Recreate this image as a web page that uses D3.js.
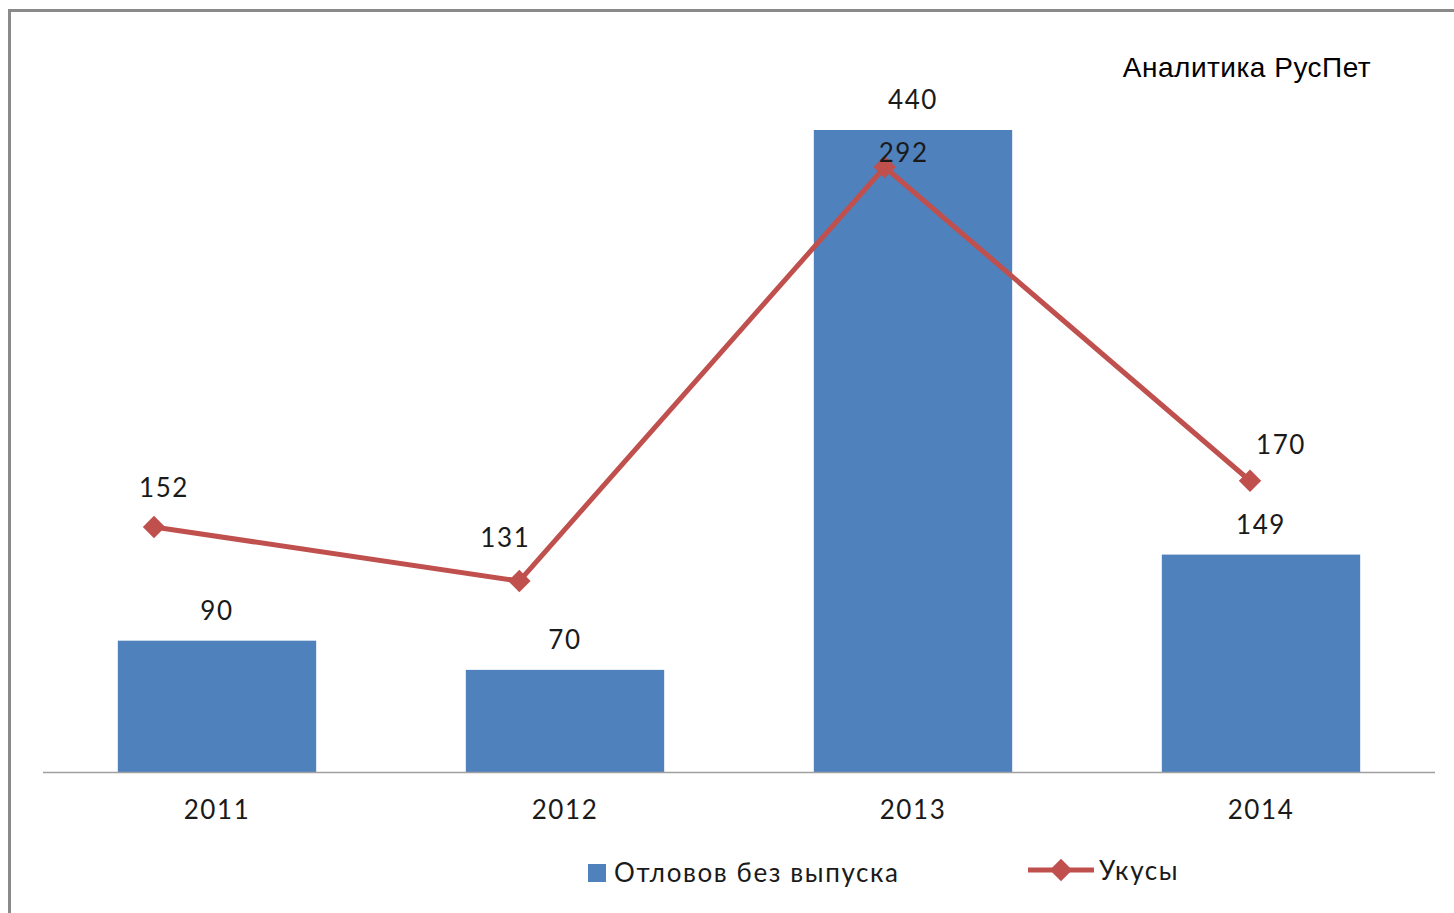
<!DOCTYPE html>
<html>
<head>
<meta charset="utf-8">
<script src="https://cdn.jsdelivr.net/npm/d3@7"></script>
<style>
  body { margin: 0; background: #fff; }
  svg { display: block; }
  .lbl { font-family: Lato, "Open Sans", sans-serif; font-size: 26px; letter-spacing: 1.6px; fill: #1a1a1a; }
</style>
</head>
<body>
<svg id="chart" width="1454" height="913"></svg>
<script>
// data
const years = ["2011", "2012", "2013", "2014"];
const catches = [90, 70, 440, 149];   // Отловов без выпуска
const bites = [152, 131, 292, 170];   // Укусы

// the line labels were dragged by hand in the original, nudge them the same way
const biteLabelNudge = [[10, -39], [-14, -43], [19, -14], [31, -36]];

const svg = d3.select("#chart");

// frame
svg.append("path")
    .attr("d", "M9.5,913 L9.5,10.5 L1454,10.5")
    .attr("fill", "none")
    .attr("stroke", "#8a8a8a")
    .attr("stroke-width", 3);

// bars use the primary axis, the line uses a hidden secondary one
let x = d3.scaleBand().domain(years).range([43, 1435]).paddingInner(0.43).paddingOuter(0.215);
let y = d3.scaleLinear().domain([0, 440]).range([772, 130]);
let x2 = d3.scalePoint().domain(years).range([154, 1250]);
let y2 = d3.scaleLinear().domain([50, 300]).range([789.3, 146.5]);

svg.append("g")
    .selectAll("rect")
    .data(catches)
    .enter().append("rect")
    .attr("x", (d, i) => x(years[i]))
    .attr("y", d => y(d))
    .attr("width", x.bandwidth())
    .attr("height", d => y(0) - y(d))
    .attr("fill", "#4f81bd");

// baseline
svg.append("line")
    .attr("x1", 43).attr("x2", 1435)
    .attr("y1", y(0) + 0.5).attr("y2", y(0) + 0.5)
    .attr("stroke", "#a0a0a0")
    .attr("stroke-width", 1.5);

// year labels
svg.append("g")
    .selectAll("text")
    .data(years)
    .enter().append("text")
    .attr("class", "lbl")
    .attr("x", d => x(d) + x.bandwidth() / 2)
    .attr("y", 819)
    .attr("text-anchor", "middle")
    .text(d => d);

// bar value labels
svg.append("g")
    .selectAll("text")
    .data(catches)
    .enter().append("text")
    .attr("class", "lbl")
    .attr("x", (d, i) => x(years[i]) + x.bandwidth() / 2)
    .attr("y", d => y(d) - 21)
    .attr("text-anchor", "middle")
    .text(d => d);

// line
let valueline = d3.line()
    .x((d, i) => x2(years[i]))
    .y(d => y2(d));

svg.append("path")
    .datum(bites)
    .attr("d", valueline)
    .attr("fill", "none")
    .attr("stroke", "#c0504d")
    .attr("stroke-width", 5);

let diamond = d3.symbol().type(d3.symbolDiamond2).size(320);

svg.append("g")
    .selectAll("path")
    .data(bites)
    .enter().append("path")
    .attr("d", diamond)
    .attr("transform", (d, i) => "translate(" + x2(years[i]) + "," + y2(d) + ")")
    .attr("fill", "#c0504d");

// line value labels
svg.append("g")
    .selectAll("text")
    .data(bites)
    .enter().append("text")
    .attr("class", "lbl")
    .attr("x", (d, i) => x2(years[i]) + biteLabelNudge[i][0])
    .attr("y", (d, i) => y2(d) + biteLabelNudge[i][1] + 9)
    .attr("text-anchor", "middle")
    .text(d => d);

// watermark
svg.append("text")
    .attr("x", 1247)
    .attr("y", 77)
    .attr("text-anchor", "middle")
    .style("font-family", "'Liberation Sans', Arial, sans-serif")
    .style("font-size", "28px")
    .style("letter-spacing", "0.5px")
    .style("fill", "#000")
    .text("Аналитика РусПет");

// legend
let legend = svg.append("g");
legend.append("rect")
    .attr("x", 588).attr("y", 864)
    .attr("width", 18).attr("height", 18)
    .attr("fill", "#4f81bd");
legend.append("text")
    .attr("class", "lbl")
    .attr("x", 614).attr("y", 882)
    .text("Отловов без выпуска");
legend.append("line")
    .attr("x1", 1028).attr("x2", 1094)
    .attr("y1", 870).attr("y2", 870)
    .attr("stroke", "#c0504d")
    .attr("stroke-width", 5);
legend.append("path")
    .attr("d", diamond)
    .attr("transform", "translate(1061,870)")
    .attr("fill", "#c0504d");
legend.append("text")
    .attr("class", "lbl")
    .attr("x", 1099).attr("y", 880)
    .text("Укусы");
</script>
</body>
</html>
